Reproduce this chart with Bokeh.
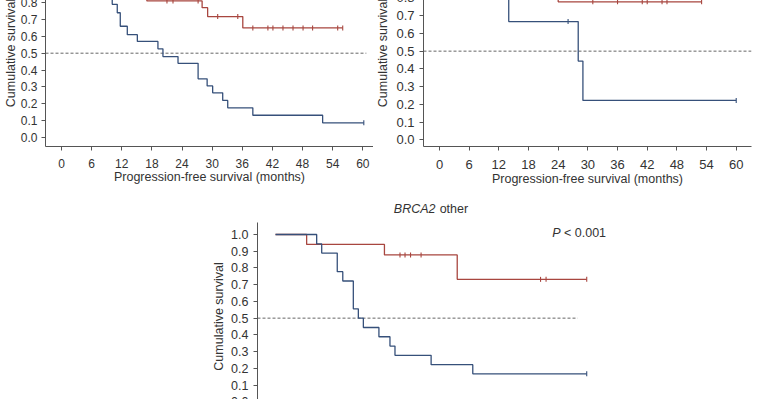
import math
from bokeh.plotting import figure
from bokeh.layouts import column, row
from bokeh.models import (Range1d, FixedTicker, NumeralTickFormatter, Label, Spacer,
                          GlobalInlineStyleSheet)
from bokeh.embed import file_html
from bokeh.resources import INLINE

# ---------------- data ----------------
x_ticks = [0, 6, 12, 18, 24, 30, 36, 42, 48, 54, 60]
y_ticks = [0.0, 0.1, 0.2, 0.3, 0.4, 0.5, 0.6, 0.7, 0.8, 0.9, 1.0]
ref_y = 0.5
x_title = "Progression-free survival (months)"
y_title = "Cumulative survival"

# panel 1 (top left)
p1_blue_t = [10.1, 11.1, 11.7, 13.1, 15.1, 19.2, 20.2, 23.2, 27.2, 29.0, 30.1, 32.1, 33.1, 38.1, 52.0]
p1_blue_s = [0.79, 0.74, 0.66, 0.61, 0.57, 0.526, 0.48, 0.44, 0.348, 0.306, 0.265, 0.22, 0.176, 0.132, 0.087]
p1_blue_end = 60.2
p1_blue_cens = [60.2]
p1_red_t = [17.0, 28.0, 29.1, 36.1]
p1_red_s = [0.81, 0.77, 0.717, 0.65]
p1_red_end = 56.0
p1_red_cens = [21.0, 22.2, 27.2, 31.1, 35.1, 38.1, 41.1, 42.1, 44.1, 46.1, 48.1, 50.0, 55.0, 56.0]

# panel 2 (top right)
p2_blue_t = [14.0, 28.05, 29.0]
p2_blue_s = [0.667, 0.444, 0.222]
p2_blue_end = 60.0
p2_blue_cens = [26.0, 60.0]
p2_red_t = [24.0]
p2_red_s = [0.778]
p2_red_end = 53.0
p2_red_cens = [31.0, 36.0, 41.0, 42.0, 45.0, 46.0, 53.0]

# panel 3 (bottom, BRCA2 other)
p3_blue_t = [8.2, 9.2, 12.3, 13.4, 15.5, 16.5, 17.5, 20.6, 22.8, 23.8, 31.0, 39.3]
p3_blue_s = [0.944, 0.889, 0.778, 0.722, 0.556, 0.5, 0.444, 0.389, 0.333, 0.278, 0.222, 0.167]
p3_blue_end = 62.0
p3_blue_cens = [62.0]
p3_red_t = [6.2, 21.7, 36.2]
p3_red_s = [0.941, 0.878, 0.732]
p3_red_end = 62.0
p3_red_cens = [24.8, 25.8, 26.9, 29.0, 52.8, 53.9, 62.0]

RED = "#a8463f"
BLUE = "#36507a"
TXT = "#333333"
AX = "#555555"
FONT = "Liberation Sans"
TOP_HIDDEN = 53  # the top row starts above the visible window (as in the cropped reference)


def km_arrays(times, surv, end):
    xs = [0.0] + list(times) + [end]
    ys = [1.0] + list(surv) + [surv[-1]]
    return xs, ys


def surv_at(times, surv, t):
    s = 1.0
    for ti, si in zip(times, surv):
        if ti <= t:
            s = si
    return s


def make_fig(width, height, xr, yr, bl, br, bt, bb, tick_fs, y_std, y_lstd,
             x_std=8, x_lstd=0, xaxis=True, ybounds=None):
    p = figure(width=width, height=height, x_range=Range1d(*xr), y_range=Range1d(*yr),
               output_backend="svg", toolbar_location=None,
               x_axis_location="below" if xaxis else None,
               min_border_left=bl, min_border_right=br, min_border_top=bt, min_border_bottom=bb)
    p.grid.visible = False
    p.outline_line_color = None
    p.background_fill_color = "white"
    p.border_fill_color = "white"
    axes = list(p.yaxis) + (list(p.xaxis) if xaxis else [])
    for ax in axes:
        ax.axis_line_color = AX
        ax.major_tick_line_color = AX
        ax.minor_tick_line_color = None
        ax.major_tick_in = 0
        ax.major_tick_out = 4
        ax.major_label_text_font = FONT
        ax.major_label_text_font_size = tick_fs
        ax.major_label_text_color = TXT
        ax.axis_label_text_font = FONT
        ax.axis_label_text_font_size = "12.5px"
        ax.axis_label_text_font_style = "normal"
        ax.axis_label_text_color = TXT
    p.yaxis.ticker = FixedTicker(ticks=y_ticks)
    p.yaxis.formatter = NumeralTickFormatter(format="0.0")
    if ybounds is not None:
        p.yaxis.bounds = ybounds
    p.yaxis.axis_label = y_title
    p.yaxis.major_label_standoff = y_std
    p.yaxis.axis_label_standoff = y_lstd
    if xaxis:
        p.xaxis.ticker = FixedTicker(ticks=x_ticks)
        p.xaxis.axis_label = x_title
        p.xaxis.major_label_standoff = x_std
        p.xaxis.axis_label_standoff = x_lstd
    return p


def draw(p, times, surv, end, cens, color):
    xs, ys = km_arrays(times, surv, end)
    p.step(xs, ys, mode="after", line_color=color, line_width=1.3)
    cy = [surv_at(times, surv, c) for c in cens]
    p.scatter(cens, cy, marker="dash", angle=math.pi / 2, size=5, line_color=color, line_width=1.1)


def ref_line(p, x_end):
    p.segment(x0=[p.x_range.start], y0=[ref_y], x1=[x_end], y1=[ref_y],
              line_color="#666666", line_width=1, line_dash="3 2")


def text(p, x, y, s, italic=False):
    p.add_layout(Label(x=x, y=y, text=s, text_font=FONT,
                       text_font_style="italic" if italic else "normal",
                       text_font_size="12.5px", text_color=TXT,
                       text_align="left", text_baseline="middle"))


H_TOP = 192 + TOP_HIDDEN

# ---------------- panel 1 ----------------
p1 = make_fig(373, H_TOP, (-3.19, 62.13), (-0.0534, 1.0558), 45, 0, 12, 46, "12px",
              4, 0, x_std=8, x_lstd=-1, ybounds=(-0.0534, 0.83))
ref_line(p1, 60.7)
draw(p1, p1_red_t, p1_red_s, p1_red_end, p1_red_cens, RED)
draw(p1, p1_blue_t, p1_blue_s, p1_blue_end, p1_blue_cens, BLUE)

# ---------------- panel 2 ----------------
p2 = make_fig(388, H_TOP, (-3.236, 63.09), (-0.0378, 1.0169), 50, 10, 12, 46, "13px",
              5, 3, x_std=9, x_lstd=0, ybounds=(-0.0378, 0.81))
ref_line(p2, 63.09)
draw(p2, p2_red_t, p2_red_s, p2_red_end, p2_red_cens, RED)
draw(p2, p2_blue_t, p2_blue_s, p2_blue_end, p2_blue_cens, BLUE)

# ---------------- panel 3 (its lower part runs below the window, as in the reference) ----------------
p3 = make_fig(424, 248, (-3.59, 71.12), (-0.2313, 1.2511), 49, 0, 0, 0, "12.5px",
              5, 2, xaxis=False, ybounds=(-0.05, 1.0717))
ref_line(p3, 60.2)
draw(p3, p3_red_t, p3_red_s, p3_red_end, p3_red_cens, RED)
draw(p3, p3_blue_t, p3_blue_s, p3_blue_end, p3_blue_cens, BLUE)
text(p3, 23.57, 1.155, "BRCA2", italic=True)
text(p3, 32.7, 1.155, "other")
text(p3, 55.12, 1.008, "P", italic=True)
text(p3, 57.47, 1.008, "< 0.001")

top_row = row(p1, p2, spacing=0)
top_row.styles = {"margin-top": f"-{TOP_HIDDEN}px"}
bottom_row = row(Spacer(width=208, height=248), p3, spacing=0)
layout = column(top_row, bottom_row, spacing=0)
layout.stylesheets = [GlobalInlineStyleSheet(css="html, body { margin: 0 !important; padding: 0; overflow: hidden; background: white; }")]

open("out.html", "w").write(file_html(layout, INLINE))
